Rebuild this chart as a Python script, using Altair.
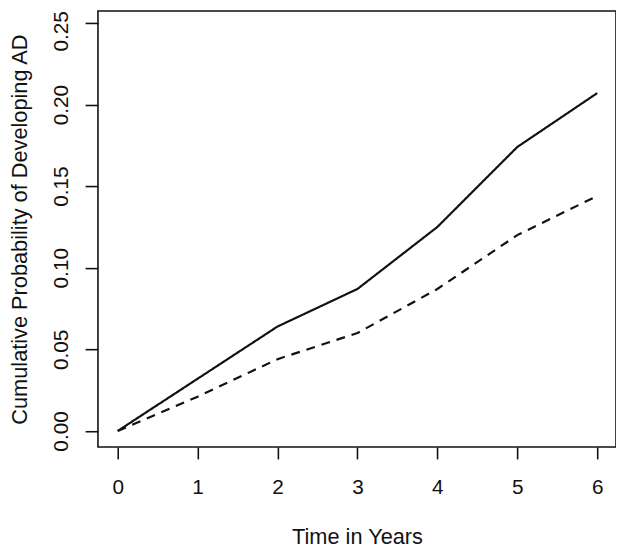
import altair as alt
import pandas as pd

years = [0, 1, 2, 3, 4, 5, 6]
solid_values = [0.0, 0.032, 0.064, 0.087, 0.125, 0.174, 0.207]
dashed_values = [0.0, 0.021, 0.044, 0.060, 0.087, 0.120, 0.144]
series_names = ["solid", "dashed"]
x_ticks = [0, 1, 2, 3, 4, 5, 6]
y_ticks = [0.0, 0.05, 0.10, 0.15, 0.20, 0.25]

rows = []
for t, v in zip(years, solid_values):
    rows.append({"time": t, "prob": v, "series": series_names[0]})
for t, v in zip(years, dashed_values):
    rows.append({"time": t, "prob": v, "series": series_names[1]})
df = pd.DataFrame(rows)

FONT = "Liberation Sans"

chart = alt.Chart(df).mark_line(strokeWidth=2.2, color="#111111").encode(
    x=alt.X(
        "time:Q",
        scale=alt.Scale(domain=[-0.247, 6.235], nice=False, zero=False),
        axis=alt.Axis(
            title="Time in Years",
            values=x_ticks,
            format="d",
            grid=False,
            domain=False,
            ticks=True,
            tickSize=12,
            tickWidth=1.6,
            tickColor="#111111",
            labelFont=FONT,
            labelFontSize=21,
            labelColor="#111111",
            labelBaseline="alphabetic",
            labelPadding=35,
            labelFlush=False,
            titleFont=FONT,
            titleFontSize=22,
            titleFontWeight="normal",
            titleColor="#111111",
            titleBaseline="alphabetic",
            titleY=98,
            titleX=262,
        ),
    ),
    y=alt.Y(
        "prob:Q",
        scale=alt.Scale(domain=[-0.00987, 0.25727], nice=False, zero=False),
        axis=alt.Axis(
            title="Cumulative Probability of Developing AD",
            values=y_ticks,
            format=".2f",
            grid=False,
            domain=False,
            ticks=True,
            tickSize=13,
            tickWidth=1.6,
            tickColor="#111111",
            labelFont=FONT,
            labelFontSize=21,
            labelColor="#111111",
            labelAngle=270,
            labelAlign="center",
            labelBaseline="alphabetic",
            labelPadding=18,
            labelFlush=False,
            labelOffset={"condition": {"test": "datum.value >= 0.249", "value": 8}, "value": 0},
            titleFont=FONT,
            titleFontSize=22,
            titleFontWeight="normal",
            titleColor="#111111",
            titleAngle=270,
            titleAlign="center",
            titleBaseline="alphabetic",
            titleX=-72,
            titleY=220.5,
        ),
    ),
    strokeDash=alt.StrokeDash(
        "series:N",
        scale=alt.Scale(domain=series_names, range=[[1, 0], [9, 7]]),
        legend=None,
    ),
).properties(
    width=524,
    height=441,
    background="white",
    autosize=alt.AutoSizeParams(type="none"),
    padding={"left": 91, "top": 0, "right": 0, "bottom": 100},
).configure_view(
    stroke="#111111",
    strokeWidth=1.6,
)

chart.save("out.html", embed_options={"renderer": "svg", "actions": False})
